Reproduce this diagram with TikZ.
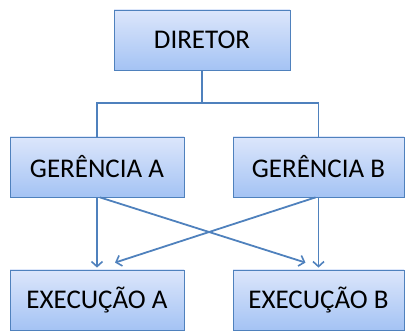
\documentclass[tikz,border=0pt]{standalone}
\usepackage{fontspec}
\setmainfont{Carlito}
\usetikzlibrary{arrows.meta,shadows}
\definecolor{boxline}{HTML}{4F81BD}
\definecolor{boxtop}{HTML}{DCE6FB}
\definecolor{boxbot}{HTML}{A4C3F4}
\tikzset{
	caixa/.style={draw=boxline, line width=0.8pt, top color=boxtop, bottom color=boxbot,
		minimum height=60pt, inner sep=0pt, font=\fontsize{27}{30}\selectfont,
		drop shadow={opacity=0.25, shadow xshift=1pt, shadow yshift=-1.5pt}},
	liga/.style={draw=boxline, line width=1.8pt},
	seta/.style={liga, -{Straight Barb[length=5pt,width=11pt,line width=1.6pt]}}
}
\begin{document}
\begin{tikzpicture}[x=1pt,y=-1pt]
		%%%%% caixas %%%%%
		\useasboundingbox (0,0) rectangle (405,331);
		
		\node[caixa, minimum width=176pt] (dir) at (202, 40) {DIRETOR};
		
		\node[caixa, minimum width=174pt] (gerA) at (97, 167) {GERÊNCIA A};
		\node[caixa, minimum width=171pt] (gerB) at (318.5, 167) {GERÊNCIA B};
		
		\node[caixa, minimum width=174pt] (exeA) at (97, 300) {EXECUÇÃO A};
		\node[caixa, minimum width=171pt] (exeB) at (318.5, 300) {EXECUÇÃO B};
		
		%%%%% ligações %%%%%
		\coordinate (meio) at (202, 103);
		\draw[liga] (dir.south) -- (meio);
		\draw[liga] (meio) -| (gerA.north);
		\draw[liga] (meio) -| (gerB.north);
		
		\draw[seta] (gerA.south) -- ([yshift=2pt]exeA.north);
		\draw[seta] (gerB.south) -- ([yshift=2pt]exeB.north);
		\draw[seta] ([xshift=3pt]gerA.south) -- ([xshift=-13pt,yshift=7pt]exeB.north);
		\draw[seta] ([xshift=-3pt]gerB.south) -- ([xshift=18pt,yshift=7pt]exeA.north);
		
	\end{tikzpicture}
\end{document}
